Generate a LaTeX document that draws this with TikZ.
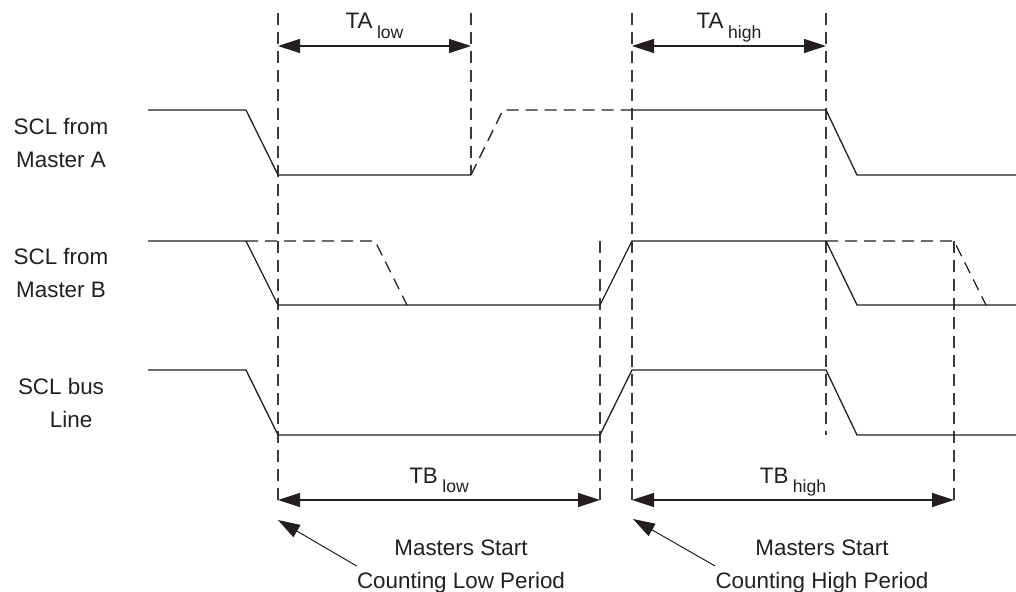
\documentclass[tikz,border=0pt]{standalone}
\usepackage{fontspec}
\setmainfont{Liberation Sans}
\usepackage{xcolor}
\definecolor{inkdark}{HTML}{231F20}
\definecolor{guidegray}{HTML}{3A3A3A}
\usepackage{tikz}
\usetikzlibrary{arrows.meta, positioning, calc}
\tikzset{
  wave/.style    ={line width=0.65pt, color=inkdark, line join=miter},
  wavedash/.style={wave, dash pattern=on 6pt off 3.5pt},
  guide/.style   ={line width=0.6pt, color=guidegray, dash pattern=on 6pt off 3.5pt},
  dimarr/.style  ={{Triangle[length=11pt,width=7pt]}-{Triangle[length=11pt,width=7pt]}, line width=0.65pt, color=inkdark},
  annarr/.style  ={-{Triangle[length=11pt,width=7pt]}, line width=0.5pt, color=inkdark},
  siglbl/.style  ={font=\fontsize{11.2}{16.5}\selectfont, text=inkdark, align=center, inner sep=0pt, anchor=base},
  dimlbl/.style  ={font=\fontsize{11.2}{16.5}\selectfont, text=inkdark, inner sep=0pt, anchor=base, yshift=8.5pt},
  notelbl/.style ={font=\fontsize{11.2}{16.5}\selectfont, text=inkdark, align=center, inner sep=0pt, anchor=base},
}
\newcommand{\tsub}[1]{\hspace{0.2em}\raisebox{-4.8pt}{\fontsize{8.8}{10}\selectfont #1}}

\begin{document}
\begin{tikzpicture}[x=0.5pt, y=-0.5pt]
  \useasboundingbox (0,0) rectangle (1016,592);
  % signal names (base = last line)
  \node[siglbl] (sigA) at (61,168) {SCL from\\Master A};
  \node[siglbl] (sigB) at (61,298) {SCL from\\Master B};
  \node[siglbl] (sigbus) at (61,428) {SCL bus\\\hspace*{0.9em}Line};
  % guide lines
  \foreach \x/\a/\b in {278/13/500, 471/13/175, 600/241/500, 632/13/500, 826/13/435, 954/241/500}
    \draw[guide] (\x,\a) -- (\x,\b);
  % Master A
  \draw[wave] (148,110) -- (246,110) -- (278,175) -- (471,175);
  \draw[wavedash] (471,175) -- (503,110) -- (632,110);
  \draw[wave] (632,110) -- (826,110) -- (857,175) -- (1016,175);
  % Master B
  \draw[wave] (148,241) -- (246,241) -- (278,305) -- (600,305) -- (632,241) -- (826,241) -- (857,305) -- (1016,305);
  \draw[wavedash] (246,241) -- (375,241) -- (407,305);
  \draw[wavedash] (826,241) -- (954,241) -- (986,305);
  % bus line
  \draw[wave] (148,370) -- (246,370) -- (278,435) -- (600,435) -- (632,370) -- (826,370) -- (857,435) -- (1016,435);
  % periods
  \coordinate (tal1) at (278,46);  \coordinate (tal2) at (471,46);
  \coordinate (tah1) at (632,46);  \coordinate (tah2) at (826,46);
  \coordinate (tbl1) at (278,500); \coordinate (tbl2) at (600,500);
  \coordinate (tbh1) at (632,500); \coordinate (tbh2) at (954,500);
  \draw[dimarr] (tal1) -- node[dimlbl] (talow) {TA\tsub{low}} (tal2);
  \draw[dimarr] (tah1) -- node[dimlbl] (tahigh) {TA\tsub{high}} (tah2);
  \draw[dimarr] (tbl1) -- node[dimlbl] (tblow) {TB\tsub{low}} (tbl2);
  \draw[dimarr] (tbh1) -- node[dimlbl] (tbhigh) {TB\tsub{high}} (tbh2);
  % notes
  \coordinate (lowtip) at (278,520);
  \coordinate (hightip) at (633,519);
  \node[notelbl] (lownote) at (461,588) {Masters Start\\Counting Low Period};
  \node[notelbl] (highnote) at (822,588) {Masters Start\\Counting High Period};
  \draw[annarr] (lownote.west) -- (lowtip);
  \draw[annarr] (highnote.west) -- (hightip);
\end{tikzpicture}
\end{document}
